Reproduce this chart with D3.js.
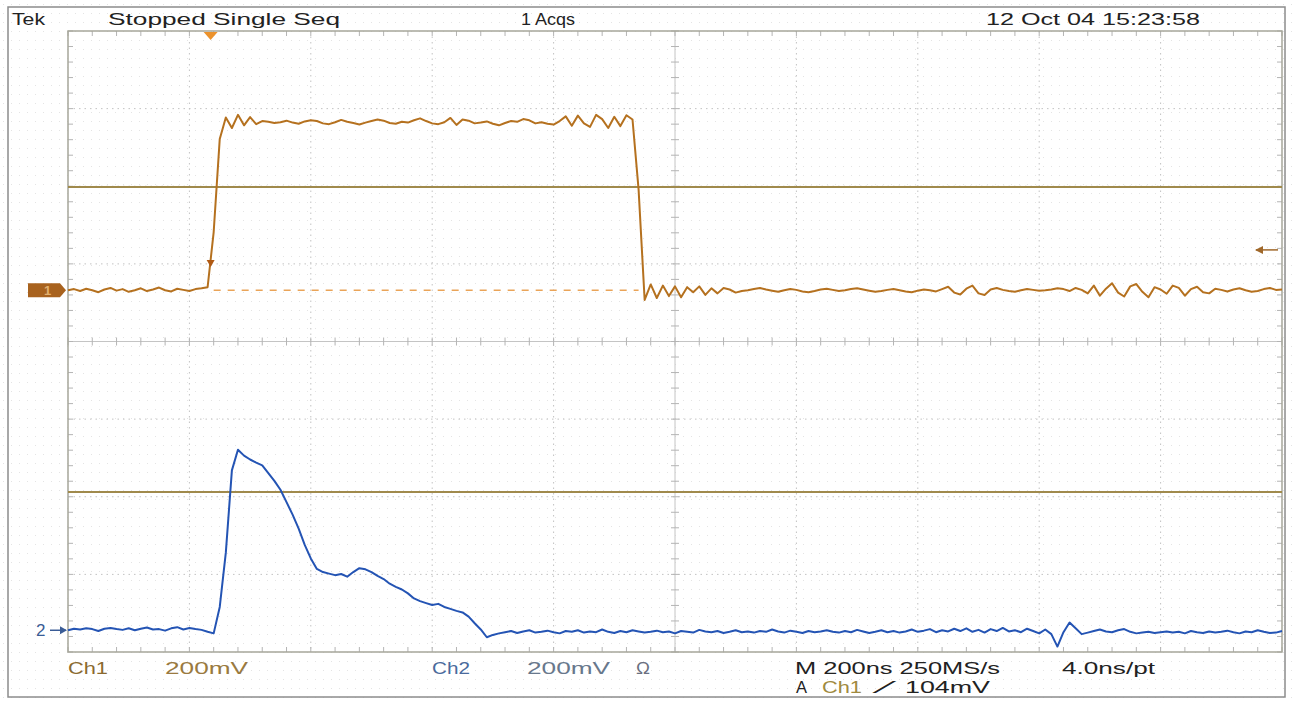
<!DOCTYPE html>
<html>
<head>
<meta charset="utf-8">
<script src="https://cdn.jsdelivr.net/npm/d3@7"></script>
<style>
  body { margin: 0; background: #fff; }
  svg { display: block; font-family: "Liberation Sans", Arial, sans-serif; }
</style>
</head>
<body>
<script>

// scope settings
var timeDivNs = 200;      // M 200ns
var voltsDivMv = 200;     // Ch1 / Ch2 200mV
var sampleNs = 10;        // values every 10 ns
var ch1Pos = 0.66;        // ground marker positions, in divisions
var ch2Pos = -3.72;
var trigNs = 235;
var trigLevelMv = 104;
var cursorDivs = [1.99, -1.94];

var headerText = ["Tek", "Stopped  Single Seq", "1 Acqs", "12 Oct 04 15:23:58"];
var footerText1 = ["Ch1", "200mV", "Ch2", "200mV", "\u03A9", "M 200ns 250MS/s", "4.0ns/pt"];
var footerText2 = ["A", "Ch1", "\u2044", "104mV"];

// Ch1, mV above its ground
var ch1Mv = [
  0, 3, -2, 4, 0, -5, 2, 6, -1, 3,
  -4, 0, 5, -2, 2, 7, 0, -3, 4, 1,
  -2, 3, 5, 8, 150, 390, 445, 418, 452, 425,
  446, 428, 436, 434, 431, 433, 437, 432, 429, 435,
  438, 436, 430, 428, 433, 439, 434, 431, 427, 432,
  436, 440, 437, 431, 429, 434, 432, 438, 443, 436,
  430, 428, 433, 444, 426, 440, 437, 430, 432, 435,
  429, 425, 431, 436, 434, 441, 438, 430, 433, 429,
  427, 436, 448, 424, 450, 430, 421, 452, 441, 418,
  447, 423, 451, 440, 260, -25, 15, -20, 12, -15,
  10, -18, 8, -5, 10, -12, 5, -8, 6, 2,
  -6, -2, 0, 3, 6, 2, -1, -4, 0, 3,
  1, -3, -5, -2, 2, 4, 1, -2, 0, 3,
  5, 2, -1, -4, -2, 1, 3, 0, -3, -5,
  -1, 2, 0, -3, 3, 9, -6, -11, 4, 12,
  -8, -12, 2, 6, 1, -2, -4, 0, 3, 1,
  -1, 0, 2, 5, 3, -2, 6, 1, -8, 12,
  -14, 4, 18, -6, -16, 10, 16, -4, -18, 8,
  2, -9, 12, 6, -14, 3, 9, -5, -8, 4,
  1, -3, 2, 5, 0, -4, -2, 3, 6, 1,
  2
];

// Ch2, mV above its ground
var ch2Mv = [
  0, 4, 2, 5, 3, -2, 4, 6, 3, 1,
  5, 0, 4, 7, 2, 3, -1, 5, 8, 2,
  6, 3, 1, -4, -8, 60, 200, 412, 465, 450,
  440, 432, 425, 405, 385, 362, 330, 298, 262, 220,
  185, 158, 150, 146, 142, 145, 138, 150, 160, 157,
  150, 140, 132, 120, 112, 105, 95, 82, 75, 70,
  65, 68, 60, 55, 50, 46, 35, 18, 2, -18,
  -12, -8, -5, -2, -7, -3, 0, -6, -4, -1,
  -5, -8, -2, -4, 0, -6, -3, -5, 2, -4,
  -7, -2, -5, 0, -3, -6, -4, -1, -5, -3,
  -8, -2, -4, -6, 1, -3, -5, -2, -7, -4,
  0, -5, -3, -6, -2, -4, 2, -3, -6, -1,
  -4, -7, -2, -5, -3, 0, -4, -6, -2, -5,
  1, -3, -7, -4, 0, -5, -2, -6, -3, 2,
  -4, -1, 3, -5, 0, -3, 4, -2, 5, -4,
  1, -6, 3, -2, 6, -3, 0, -5, 4, -2,
  -8, 2, -10, -42, -5, 20, 5, -10, -6, -2,
  2, -3, -5, 0, 3, -4, -8, -6, -4, -7,
  -5, -3, -6, -4, -8, -2, -5, -7, -3, -6,
  -4, -1, -5, -8, -3, -5, 0, -4, -7, -6,
  -2
];

var svg = d3.select("body").append("svg").attr("width", 1292).attr("height", 702);

// graticule box
var gLeft = 68, gRight = 1282, gTop = 31, gBottom = 652;

var x = d3.scaleLinear().domain([0, 10 * timeDivNs]).range([gLeft, gRight]);
var yDiv = d3.scaleLinear().domain([-4, 4]).range([gBottom, gTop]);

function yCh(pos) {
  return function(mv) { return yDiv(pos + mv / voltsDivMv); };
}
var y1 = yCh(ch1Pos), y2 = yCh(ch2Pos);

// faint dot texture of the screen capture
var defs = svg.append("defs");
defs.append("pattern").attr("id", "dots").attr("width", 8).attr("height", 9)
  .attr("patternUnits", "userSpaceOnUse")
  .append("rect").attr("x", 3).attr("y", 4).attr("width", 1).attr("height", 1)
  .attr("fill", "#e4e4e4");
svg.append("rect").attr("width", 1292).attr("height", 702).attr("fill", "url(#dots)");

// outer frame
svg.append("rect").attr("x", 8).attr("y", 7).attr("width", 1277).attr("height", 690)
  .attr("fill", "none").attr("stroke", "#8c8c8c").attr("stroke-width", 1.5);

var grid = svg.append("g");

// dotted division lines
grid.selectAll(".vdiv").data(d3.range(1, 10).filter(d => d != 5)).enter().append("line")
  .attr("x1", d => x(d * timeDivNs)).attr("x2", d => x(d * timeDivNs))
  .attr("y1", gTop).attr("y2", gBottom)
  .attr("stroke", "#c2c2c2").attr("stroke-dasharray", "1.5,4");

grid.selectAll(".hdiv").data(d3.range(-3, 4).filter(d => d != 0)).enter().append("line")
  .attr("x1", gLeft).attr("x2", gRight)
  .attr("y1", d => yDiv(d)).attr("y2", d => yDiv(d))
  .attr("stroke", "#c2c2c2").attr("stroke-dasharray", "1.5,4");

// center cross
grid.append("line").attr("x1", x(5 * timeDivNs)).attr("x2", x(5 * timeDivNs))
  .attr("y1", gTop).attr("y2", gBottom).attr("stroke", "#c4c4c4");
grid.append("line").attr("x1", gLeft).attr("x2", gRight)
  .attr("y1", yDiv(0)).attr("y2", yDiv(0)).attr("stroke", "#c4c4c4");

// minor ticks, 5 per division
var tx = d3.range(0, 10 * timeDivNs + 1, timeDivNs / 5);
var ty = d3.range(-4, 4.01, 0.2);

[[yDiv(0) - 4, yDiv(0) + 4], [gTop, gTop + 5], [gBottom - 5, gBottom]].forEach(function(r) {
  grid.append("g").selectAll("line").data(tx).enter().append("line")
    .attr("x1", d => x(d)).attr("x2", d => x(d))
    .attr("y1", r[0]).attr("y2", r[1])
    .attr("stroke", "#b4b4b4");
});
[[x(5 * timeDivNs) - 4, x(5 * timeDivNs) + 4], [gLeft, gLeft + 5], [gRight - 5, gRight]].forEach(function(r) {
  grid.append("g").selectAll("line").data(ty).enter().append("line")
    .attr("y1", d => yDiv(d)).attr("y2", d => yDiv(d))
    .attr("x1", r[0]).attr("x2", r[1])
    .attr("stroke", "#b4b4b4");
});

// graticule border
grid.append("rect").attr("x", gLeft).attr("y", gTop)
  .attr("width", gRight - gLeft).attr("height", gBottom - gTop)
  .attr("fill", "none").attr("stroke", "#a6a69a").attr("stroke-width", 1.5);

// horizontal cursors
svg.selectAll(".cursor").data(cursorDivs).enter().append("line")
  .attr("x1", gLeft).attr("x2", gRight)
  .attr("y1", d => yDiv(d)).attr("y2", d => yDiv(d))
  .attr("stroke", "#a08a4c").attr("stroke-width", 2);

// ch1 ground reference, dashed where the trace is high
svg.append("line")
  .attr("x1", x(24 * sampleNs)).attr("x2", x(94 * sampleNs))
  .attr("y1", y1(0)).attr("y2", y1(0))
  .attr("stroke", "#eaa458").attr("stroke-width", 1.5).attr("stroke-dasharray", "7,7");

var line1 = d3.line().x((d, i) => x(i * sampleNs)).y(d => y1(d));
var line2 = d3.line().x((d, i) => x(i * sampleNs)).y(d => y2(d));

svg.append("path").datum(ch1Mv).attr("d", line1)
  .attr("fill", "none").attr("stroke", "#b5711f").attr("stroke-width", 2)
  .attr("stroke-linejoin", "round");

svg.append("path").datum(ch2Mv).attr("d", line2)
  .attr("fill", "none").attr("stroke", "#2454b4").attr("stroke-width", 2)
  .attr("stroke-linejoin", "round");

// trigger markers
var tX = x(trigNs);
svg.append("path")
  .attr("d", "M" + (tX - 7) + "," + (gTop + 1) + "L" + (tX + 7) + "," + (gTop + 1) + "L" + tX + "," + (gTop + 9) + "Z")
  .attr("fill", "#ec922c");
var tl = y1(trigLevelMv);
svg.append("path")
  .attr("d", "M" + (tX - 4) + "," + (tl + 10) + "L" + (tX + 4) + "," + (tl + 10) + "L" + tX + "," + (tl + 17) + "Z")
  .attr("fill", "#b05a14");

svg.append("line").attr("x1", gRight - 26).attr("x2", gRight - 4).attr("y1", tl).attr("y2", tl)
  .attr("stroke", "#a0682a").attr("stroke-width", 1.5);
svg.append("path")
  .attr("d", "M" + (gRight - 27) + "," + tl + "L" + (gRight - 19) + "," + (tl - 4) + "L" + (gRight - 19) + "," + (tl + 4) + "Z")
  .attr("fill", "#a0682a");

// channel ground markers
var g1 = y1(0);
svg.append("path")
  .attr("d", "M28," + (g1 - 7) + "L60," + (g1 - 7) + "L66," + g1 + "L60," + (g1 + 7) + "L28," + (g1 + 7) + "Z")
  .attr("fill", "#a8621e");
svg.append("text").attr("x", 44).attr("y", g1 + 5).attr("font-size", 13).attr("font-weight", "bold")
  .attr("fill", "#e2b070").text("1");

var g2 = y2(0);
svg.append("text").attr("x", 36).attr("y", g2 + 6).attr("font-size", 17)
  .attr("fill", "#3a5c96").text("2");
svg.append("line").attr("x1", 50).attr("x2", 66).attr("y1", g2).attr("y2", g2)
  .attr("stroke", "#3a5c96").attr("stroke-width", 1.5);
svg.append("path").attr("d", "M67," + g2 + "L60," + (g2 - 4) + "L60," + (g2 + 4) + "Z")
  .attr("fill", "#3a5c96");

// readouts
var headerX = [12, 108, 521, 986], headerW = [33, 232, 54, 214];
svg.selectAll(".hdr").data(headerText).enter().append("text")
  .attr("x", (d, i) => headerX[i]).attr("y", 25)
  .attr("font-size", 17).attr("fill", "#222")
  .attr("textLength", (d, i) => headerW[i]).attr("lengthAdjust", "spacingAndGlyphs")
  .text(d => d);

var f1X = [68, 165, 432, 527, 636, 795, 1062];
var f1W = [40, 83, 38, 83, 14, 205, 93];
var f1C = ["#8a6a30", "#9a7a40", "#4a6a9c", "#68788c", "#6a7080", "#222", "#222"];
svg.selectAll(".ft1").data(footerText1).enter().append("text")
  .attr("x", (d, i) => f1X[i]).attr("y", 674)
  .attr("font-size", 17).attr("fill", (d, i) => f1C[i])
  .attr("textLength", (d, i) => f1W[i]).attr("lengthAdjust", "spacingAndGlyphs")
  .text(d => d);

var f2X = [796, 822, 882, 905];
var f2W = [11, 40, 8, 85];
var f2C = ["#222", "#a08a40", "#222", "#222"];
svg.selectAll(".ft2").data(footerText2).enter().append("text")
  .attr("x", (d, i) => f2X[i]).attr("y", 693)
  .attr("font-size", 17).attr("fill", (d, i) => f2C[i])
  .attr("textLength", (d, i) => f2W[i]).attr("lengthAdjust", "spacingAndGlyphs")
  .text(d => d);

</script>
</body>
</html>
